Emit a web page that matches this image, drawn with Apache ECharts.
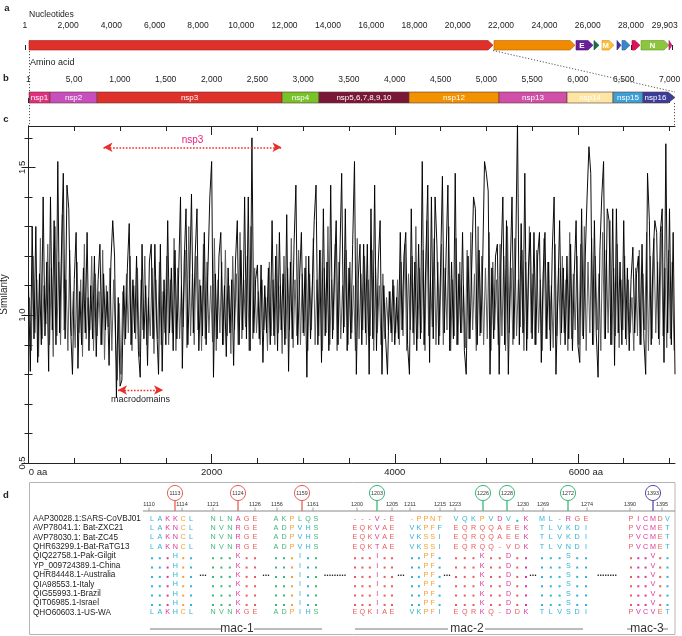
<!DOCTYPE html>
<html><head><meta charset="utf-8">
<script src="https://cdn.jsdelivr.net/npm/echarts@6/dist/echarts.min.js"></script>
<style>html,body{margin:0;padding:0;background:#fff}#c{width:682px;height:636px}</style>
</head><body><div id="c"></div>
<script>
// ================= DATA =================
// Panel a: genome (nucleotides)
const ntTicks = [1,2000,4000,6000,8000,10000,12000,14000,16000,18000,20000,22000,24000,26000,28000,29903];
const ntTickLabels = ['1','2,000','4,000','6,000','8,000','10,000','12,000','14,000','16,000','18,000','20,000','22,000','24,000','26,000','28,000','29,903'];
const geneLabels = ['', '', 'E', '', 'M', '', '', '', 'N', ''];
const geneStart = [194, 21672, 25460, 26291, 26661, 27353, 27584, 28045, 28462, 29755];
const geneEnd   = [21626, 25414, 26245, 26522, 27215, 27538, 27953, 28416, 29755, 29894];

// Panel b: polyprotein (amino acids)
const aaTicks = [1,500,1000,1500,2000,2500,3000,3500,4000,4500,5000,5500,6000,6500,7000];
const aaTickLabels = ['1','5,00','1,000','1,500','2,000','2,500','3,000','3,500','4,000','4,500','5,000','5,500','6,000','6,500','7,000'];
const nspNames = ['nsp1','nsp2','nsp3','nsp4','nsp5,6,7,8,9,10','nsp12','nsp13','nsp14','nsp15','nsp16'];
const nspStart = [8, 237, 751, 2770, 3173, 4156, 5138, 5881, 6383, 6710];
const nspEnd   = [237, 751, 2770, 3173, 4156, 5138, 5881, 6383, 6710, 7060];

// Panel c: similarity traces (dark trace at 0,20,40... aa; grey trace at 10,30,50... aa)
const simStepAA = 20;
const similarity = [
1.10,0.81,1.30,0.92,1.30,0.84,1.14,0.90,1.40,0.93,1.18,0.81,1.40,0.95,1.32,0.90,1.52,0.94,1.22,1.48,0.92,1.44,1.36,0.96,0.80,
1.12,1.28,0.82,1.08,0.90,1.16,0.94,1.28,0.88,1.10,0.92,1.20,0.86,1.12,1.24,0.90,1.14,0.95,1.08,0.83,1.18,1.32,1.20,0.72,1.06,
0.76,0.78,1.10,0.92,1.16,1.31,0.90,1.12,0.94,1.20,0.88,0.79,1.24,0.92,1.10,0.83,1.18,1.24,0.92,1.24,0.96,0.80,1.24,0.81,1.12,
0.90,1.32,0.94,1.16,0.88,1.22,0.92,1.14,1.40,0.82,1.18,1.36,0.90,1.12,1.41,0.94,1.20,1.36,0.88,1.10,0.93,1.28,0.90,1.16,1.40,
1.52,0.79,1.14,0.92,1.20,1.28,0.90,1.10,0.86,1.16,0.94,1.12,0.83,1.18,1.32,0.90,1.22,0.95,1.40,0.92,1.40,0.88,1.60,0.94,1.12,
1.17,0.92,1.17,0.84,1.10,0.94,1.16,0.90,1.32,0.93,1.20,0.88,1.28,0.95,1.14,0.90,1.34,0.81,1.18,0.92,1.24,1.44,0.90,1.12,1.28,
0.94,1.16,0.79,1.20,0.92,1.10,1.32,1.44,0.90,1.22,0.84,1.36,0.93,1.18,0.88,1.44,0.92,1.14,1.32,0.90,1.20,1.48,0.94,1.36,0.88,
1.16,0.92,1.24,1.52,0.80,1.12,1.24,0.90,1.24,0.94,1.24,0.80,1.36,0.92,1.44,0.88,1.18,1.32,0.80,1.10,0.92,0.80,1.08,0.94,1.12,
0.90,1.06,0.92,1.28,0.95,1.20,1.28,0.90,0.80,1.36,0.94,1.18,0.88,1.24,0.92,1.52,0.90,1.20,1.44,0.84,1.40,0.92,1.40,1.24,0.90,
1.16,1.47,0.94,1.20,1.44,0.88,1.18,0.92,1.48,0.90,1.14,0.94,1.28,0.88,0.80,1.20,0.92,1.16,1.40,1.36,0.90,1.22,0.94,1.18,1.52,
1.48,1.42,0.80,1.16,0.92,1.20,1.24,0.80,1.18,1.40,0.90,1.32,0.80,1.14,1.40,0.92,1.20,1.66,0.90,1.31,0.94,1.48,0.88,1.16,1.28,
0.92,1.28,0.90,1.20,1.28,0.84,1.14,1.28,0.92,1.18,0.88,1.22,1.40,0.80,0.80,1.32,0.94,1.16,0.90,1.20,0.92,1.24,0.88,1.14,1.32,
0.90,0.84,1.36,0.92,1.20,1.40,1.57,1.48,0.90,1.32,0.94,0.79,1.22,1.40,1.52,0.92,1.36,1.32,0.90,1.36,0.83,1.36,0.94,1.18,0.90,
1.32,0.92,1.16,0.88,1.12,1.23,0.94,1.14,1.20,0.90,1.24,0.92,0.80,1.48,1.32,0.90,1.20,1.32,1.28,0.92,1.28,1.36,0.84,1.58,0.94,
1.36,0.90,1.28,0.80
];
const simGreyStartAA = 10;
const similarityGrey = [
1.06,0.88,1.20,0.94,1.12,0.86,1.26,0.92,1.10,0.97,1.24,0.90,1.16,0.86,1.30,0.93,1.18,0.90,1.34,0.95,1.12,0.88,1.22,0.93,1.08,
0.89,1.18,0.94,1.12,0.86,1.24,0.92,1.06,0.95,1.20,0.88,1.14,0.93,1.08,0.90,1.22,0.85,1.10,0.96,1.16,0.88,1.12,0.92,0.78,1.04,
0.80,1.08,0.90,1.14,0.94,1.20,0.88,1.10,0.92,1.16,0.86,1.12,0.95,1.20,0.90,1.06,0.93,1.16,0.87,1.12,0.92,1.18,0.90,1.08,0.94,
1.20,0.90,1.12,0.94,1.26,0.88,1.16,0.92,1.10,0.96,1.22,0.89,1.30,0.93,1.14,0.90,1.20,0.95,1.12,0.88,1.24,0.92,1.18,0.94,1.10,
0.91,1.26,0.88,1.12,0.94,1.18,0.90,1.22,0.93,1.10,0.87,1.20,0.95,1.14,0.90,1.28,0.92,1.12,0.96,1.20,0.88,1.30,0.92,1.16,0.94,
1.08,0.90,1.12,0.95,1.06,0.88,1.18,0.93,1.12,0.90,1.24,0.94,1.10,0.87,1.20,0.92,1.16,0.95,1.26,0.89,1.12,0.93,1.22,0.90,1.14,
0.93,1.20,0.88,1.14,0.95,1.26,0.90,1.12,0.93,1.22,0.88,1.16,0.94,1.30,0.90,1.12,0.95,1.24,0.88,1.18,0.92,1.10,0.96,1.22,0.90,
1.18,0.94,1.10,0.88,1.26,0.92,1.14,0.95,1.20,0.90,1.12,0.93,1.22,0.88,1.16,0.94,1.10,0.90,1.14,0.92,1.06,0.95,1.08,0.91,1.10,
0.94,1.12,0.90,1.18,0.93,1.24,0.88,1.14,0.95,1.20,0.90,1.30,0.92,1.16,0.94,1.22,0.88,1.32,0.93,1.12,0.96,1.26,0.90,1.18,0.93,
1.24,0.90,1.16,0.95,1.30,0.88,1.12,0.93,1.26,0.90,1.18,0.94,1.10,0.89,1.22,0.92,1.28,0.95,1.14,0.88,1.30,0.93,1.20,0.90,1.16,
0.92,1.28,0.88,1.18,0.95,1.12,0.90,1.24,0.93,1.20,0.88,1.30,0.94,1.16,0.90,1.26,0.93,1.12,0.96,1.22,0.88,1.18,0.92,1.30,0.94,
1.14,0.90,1.22,0.94,1.12,0.88,1.26,0.92,1.18,0.95,1.10,0.89,1.24,0.93,1.16,0.90,1.20,0.94,1.12,0.88,1.28,0.92,1.14,0.95,1.20,
0.90,1.24,0.93,1.30,0.88,1.18,0.94,1.26,0.90,1.20,0.95,1.14,0.88,1.28,0.92,1.22,0.94,1.32,0.90,1.16,0.93,1.24,0.89,1.12,0.95,
1.20,0.90,1.12,0.94,1.06,0.88,1.16,0.93,1.22,0.90,1.14,0.95,1.28,0.88,1.20,0.92,1.26,0.94,1.18,0.90,1.30,0.93,1.16,0.89,1.22,
0.92,1.18,0.88
];
const xLabelValues = [0, 2000, 4000, 6000];
const yLabelValues = [0.5, 1.0, 1.5];
const yMinorValues = [0.6,0.7,0.8,0.9,1.1,1.2,1.3,1.4,1.6];
const xMinorValues = [500,1000,1500,2500,3000,3500,4500,5000,5500,6500,7000];
const nsp3Range = [819, 2763];
const macroRange = [977, 1469];

// Panel d: alignment
const seqNames = ['AAP30028.1:SARS-CoVBJ01','AVP78041.1: Bat-ZXC21','AVP78030.1: Bat-ZC45','QHR63299.1-Bat-RaTG13','QIQ22758.1-Pak-Gilgit','YP_009724389.1-China','QHR84448.1-Australia','QIA98553.1-Italy','QIG55993.1-Brazil','QIT06985.1-Israel','QHO60603.1-US-WA'];
const alignment = [
 ['LAKKCL','LAKNCL','LAKNCL','LAKNCL','...H..','...H..','...H..','...H..','...H..','...H..','LAKHCL'],
 ['NLNAGE','NVNRGE','NVNRGE','NVNRGE','...K..','...K..','...K..','...K..','...K..','...K..','NVNKGE'],
 ['AKPLQS','ADPVHS','ADPVHS','ADPVHS','...I..','...I..','...I..','...I..','...I..','...I..','ADPIHS'],
 ['---V-E','EQKVAE','EQKVAE','EQKTAE','...I..','...I..','...I..','...I..','...I..','...I..','EQKIAE'],
 ['-PPNT','VKPFF','VKSSI','VKSSI','..PF.','..PF.','..PF.','..PF.','..PF.','..PF.','VKPFI'],
 ['VQKPVDV.K','EQRQQAEEK','EQRQQAEEK','EQRQQ-VDK','...K..D..','...K..D..','...K..D..','...K..D..','...K..D..','...K..D..','EQRKQ-DDK'],
 ['ML-RGE','TLVKDI','TLVKDI','TLVNDI','...S..','...S..','...S..','...S..','...S..','...S..','TLVSDI'],
 ['PICMDV','PVCMET','PVCMET','PVCMET','...V..','...V..','...V..','...V..','...V..','...V..','PVCVET']
];
const rulerTicks = [1110,1114,1121,1126,1156,1161,1200,1205,1211,1215,1223,1230,1269,1274,1390,1395];
const siteResidues = [1113,1124,1159,1203,1226,1228,1272,1393];
const macLabels = ['mac-1','mac-2','mac-3'];

// ================= LAYOUT / STYLE =================
const FONT = '"Liberation Sans", Arial, sans-serif';
const geneColors = ['#e0302a','#f08a00','#6a1f9a','#17704a','#f6bf3e','#3b36a0','#3b86cc','#e0145c','#8cc63f','#e0207a'];
const geneStroke = ['#9e1b17','#b36200','#4a1070','#0e4f33','#e08f10','#26237a','#27609a','#a00c40','#5f9a22','#a0105a'];
const nspColors = ['#e0307f','#c64fbd','#e0302a','#78c32a','#7a1638','#f39200','#d04fa8','#fde5a4','#3d9fd5','#3c3c9c'];
const PAL = {c:'#2fb3d8', p:'#e0359b', o:'#f5a031', g:'#3db878', r:'#ea5c5c'};
const blockStyle = [
 {x0:152, step:7.8,  c1:'ccppoc', cc:'ccppoc', v:'c'},
 {x0:213, step:8.4,  c1:'gggprr', cc:'gggprr', v:'p'},
 {x0:276, step:8.0,  c1:'ggoggg', cc:'ggoccg', v:'c'},
 {x0:355, step:7.4,  c1:'rrrprr', cc:'rrrprr', v:'p'},
 {x0:412, step:6.9,  c1:'ooooo',  cc:'ccooc',  v:'o'},
 {x0:456, step:8.75, c1:'cccocpccp', cc:'rrrrrrrrp', v:'p'},
 {x0:542, step:8.8,  c1:'cccprr', cc:'cccccc', v:'c'},
 {x0:631, step:7.3,  c1:'rppprc', cc:'rppprc', v:'p'}
];
const rulerX = [149,182,213,255,277,313,357,392,410,440,455,523,543,587,630,662];
const siteX = [175,238,302,377,483,507,568,653];
const siteCol = ['#e8605a','#e8605a','#e8605a','#3cb878','#3cb878','#3cb878','#3cb878','#5b4ab0'];
const macLayout = [
 {cx:237, segs:[[150,221],[254,322]]},
 {cx:467, segs:[[355,448],[485,583]]},
 {cx:647, segs:[[627,632],[663,668]]}
];
const ellipses = [[203,'...'],[266,'...'],[335,'.........'],[401,'...'],[447,'...'],[533,'...'],[607,'........']];
const row0Y = 518.8, rowStep = 9.35;

// ================= BUILD =================
const chart = echarts.init(document.getElementById('c'), null, {renderer:'canvas', width:682, height:636});

function arrowRender(colors, strokes, labels, headLen, fontSize, lastOnlyHead) {
  return function (params, api) {
    const s = api.value(0), e = api.value(1), k = api.value(2);
    const p0 = api.coord([s, 1]), p1 = api.coord([e, 0]);
    const x0 = p0[0], x1 = p1[0], yT = p0[1], yB = p1[1], yM = (yT + yB) / 2;
    let head = headLen;
    if (lastOnlyHead && k !== labels.length - 1) head = 0;
    head = Math.min(head, x1 - x0);
    const pts = [[x0,yT],[x1-head,yT],[x1,yM],[x1-head,yB],[x0,yB]];
    const children = [{type:'polygon', shape:{points:pts}, style:{fill:colors[k], stroke:strokes[k], lineWidth:0.6}}];
    if (labels[k]) {
      children.push({type:'text', x:(x0 + x1 - head) / 2, y:yM + 0.3,
        style:{text:labels[k], fill:'#fff', fontSize:fontSize, fontFamily:FONT, fontWeight: lastOnlyHead ? 'normal' : 'bold', align:'center', verticalAlign:'middle'}});
    }
    return {type:'group', children};
  };
}

const geneData = geneStart.map((s, i) => [s, geneEnd[i], i]);
const nspData = nspStart.map((s, i) => [s, nspEnd[i], i]);
const simData = similarity.map((v, i) => [i * simStepAA, v]);
const simGreyData = similarityGrey.map((v, i) => [simGreyStartAA + i * simStepAA, v]);

const axLine = {lineStyle:{color:'#222', width:1}};
const hidden = {show:false};
const lastNt = ntTickLabels.length - 1;

const xAxes = [
  {gridIndex:0, type:'value', min:0, max:30000, position:'top', offset:3.5,
   axisLine:hidden, splitLine:hidden,
   axisTick:{show:true, customValues:ntTicks, length:5, lineStyle:{color:'#222'}},
   axisLabel:{show:true, customValues:ntTicks, margin:7, fontSize:8.5, color:'#222', fontFamily:FONT,
     formatter:v => { const k = ntTicks.indexOf(v); return k === lastNt ? '{r|' + ntTickLabels[k] + '}' : ntTickLabels[k]; },
     rich:{r:{fontSize:8.5, fontFamily:FONT, color:'#222', padding:[0,15,0,0]}}}},
  {gridIndex:1, type:'value', min:0, max:7100, position:'top', offset:2,
   axisLine:hidden, splitLine:hidden,
   axisTick:{show:true, customValues:aaTicks, length:5, lineStyle:{color:'#222'}},
   axisLabel:{show:true, customValues:aaTicks, formatter:v => aaTickLabels[aaTicks.indexOf(v)], margin:6, fontSize:8.5, color:'#222', fontFamily:FONT}},
  {gridIndex:2, type:'value', min:0, max:7060, position:'bottom',
   axisLine:axLine, splitLine:hidden,
   axisTick:{show:true, inside:true, customValues:xLabelValues, length:9, lineStyle:{color:'#222'}},
   axisLabel:{show:true, customValues:xLabelValues, margin:4, fontSize:9.5, color:'#222', fontFamily:FONT,
     formatter:v => v === 0 ? '{a|0 aa}' : (v === 6000 ? '{b|6000 aa}' : String(v)),
     rich:{a:{fontSize:9.5, fontFamily:FONT, color:'#222', padding:[0,0,0,19]}, b:{fontSize:9.5, fontFamily:FONT, color:'#222', padding:[0,0,0,16]}}}},
  {gridIndex:2, type:'value', min:0, max:7060, position:'top',
   axisLine:axLine, splitLine:hidden, axisLabel:hidden,
   axisTick:{show:true, inside:true, customValues:xLabelValues, length:9, lineStyle:{color:'#222'}}},
  {gridIndex:3, type:'value', min:0, max:7060, position:'bottom',
   axisLine:hidden, splitLine:hidden, axisLabel:hidden,
   axisTick:{show:true, inside:true, customValues:xMinorValues, length:5, lineStyle:{color:'#222'}}},
  {gridIndex:3, type:'value', min:0, max:7060, position:'top',
   axisLine:hidden, splitLine:hidden, axisLabel:hidden,
   axisTick:{show:true, inside:true, customValues:xMinorValues, length:5, lineStyle:{color:'#222'}}}
];

const yAxes = [
  {gridIndex:0, type:'value', min:0, max:1, show:false},
  {gridIndex:1, type:'value', min:0, max:1, show:false},
  {gridIndex:2, type:'value', min:0.5, max:1.64, position:'left',
   axisLine:axLine, splitLine:hidden,
   axisTick:{show:true, inside:true, customValues:yLabelValues, length:7, lineStyle:{color:'#222'}},
   axisLabel:{show:true, customValues:yLabelValues, formatter:v => v.toFixed(1), rotate:90, margin:1.5, fontSize:9.5, color:'#222', fontFamily:FONT},
   name:'Similarity', nameLocation:'middle', nameRotate:90, nameGap:19,
   nameTextStyle:{fontSize:10, color:'#222', fontFamily:FONT}},
  {gridIndex:2, type:'value', min:0.5, max:1.64, position:'right',
   axisLine:axLine, splitLine:hidden, axisLabel:hidden,
   axisTick:{show:true, inside:true, customValues:yLabelValues, length:7, lineStyle:{color:'#222'}}},
  {gridIndex:3, type:'value', min:0.5, max:1.64, position:'left',
   axisLine:hidden, splitLine:hidden, axisLabel:hidden,
   axisTick:{show:true, inside:true, customValues:yMinorValues, length:4, lineStyle:{color:'#222'}}},
  {gridIndex:3, type:'value', min:0.5, max:1.64, position:'right',
   axisLine:hidden, splitLine:hidden, axisLabel:hidden,
   axisTick:{show:true, inside:true, customValues:yMinorValues, length:4, lineStyle:{color:'#222'}}}
];

// ---------- graphic (text / annotations) ----------
const G = [];
function txt(x, y, text, o) {
  o = o || {};
  G.push({type:'text', x, y, silent:true, z:10,
    style:{text, fill:o.fill || '#222', fontSize:o.size || 9, fontFamily:FONT, fontWeight:o.weight || 'normal',
      align:o.align || 'left', verticalAlign:o.va || 'middle'}});
}
function line(x1, y1, x2, y2, o) {
  o = o || {};
  G.push({type:'line', silent:true, z:o.z || 10, shape:{x1, y1, x2, y2},
    style:{stroke:o.stroke || '#333', lineWidth:o.w || 1, lineDash:o.dash || null}});
}

txt(7, 8, 'a', {weight:'bold', size:9.5, align:'center'});
txt(6, 78, 'b', {weight:'bold', size:9.5, align:'center'});
txt(6, 119, 'c', {weight:'bold', size:9.5, align:'center'});
txt(6, 495, 'd', {weight:'bold', size:9.5, align:'center'});
txt(29, 15, 'Nucleotides', {size:8.6});
txt(30, 63, 'Amino acid', {size:9});

line(29.5, 51, 29.5, 126, {dash:[1.2,1.8], w:0.9, stroke:'#444'});
line(493, 50.5, 675, 92, {dash:[1.2,1.8], w:0.9, stroke:'#444'});
line(674.5, 103, 674.5, 126, {dash:[1.2,1.8], w:0.9, stroke:'#444'});

G.push({type:'rect', silent:true, z:5, shape:{x:29.5, y:482.5, width:645.5, height:152}, style:{fill:'none', stroke:'#b5b5b5', lineWidth:1}});

seqNames.forEach((n, i) => txt(33, row0Y + i * rowStep, n, {size:8.2, fill:'#222'}));

line(143, 511, 675, 511, {stroke:'#8a8a8a', w:1.2});
rulerTicks.forEach((t, i) => {
  line(rulerX[i], 507.5, rulerX[i], 511, {stroke:'#8a8a8a', w:0.8});
  txt(rulerX[i], 504.5, String(t), {size:5.5, align:'center', fill:'#333'});
});
siteResidues.forEach((r, i) => {
  line(siteX[i], 500.8, siteX[i], 511, {stroke:siteCol[i], w:1.3, z:11});
  G.push({type:'circle', silent:true, z:11, shape:{cx:siteX[i], cy:493, r:7.6}, style:{fill:'#fff', stroke:siteCol[i], lineWidth:1}});
  txt(siteX[i], 493.3, String(r), {size:5.3, align:'center', fill:'#333'});
  G[G.length - 1].z = 12;
});

alignment.forEach((blk, gi) => {
  const L = blockStyle[gi];
  const variantCols = [];
  for (let c = 0; c < blk[4].length; c++) if (blk[4][c] !== '.') variantCols.push(c);
  blk.forEach((row, ri) => {
    const y = row0Y + ri * rowStep;
    for (let ci = 0; ci < row.length; ci++) {
      const ch = row[ci];
      const x = L.x0 + ci * L.step;
      let key;
      if (ri === 0) key = L.c1[ci];
      else if (ri >= 4 && variantCols.indexOf(ci) >= 0) key = L.v;
      else key = L.cc[ci];
      const col = PAL[key];
      if (ch === '.') {
        G.push({type:'rect', silent:true, z:10, shape:{x:x - 1, y:y + 1, width:2, height:2}, style:{fill:col}});
      } else {
        txt(x, y, ch, {size:7.2, align:'center', fill:col});
      }
    }
  });
});
ellipses.forEach(e => txt(e[0], row0Y + 6 * rowStep - 1.5, e[1], {size:9, align:'center', fill:'#222', weight:'bold'}));

macLabels.forEach((m, i) => {
  const L = macLayout[i];
  L.segs.forEach(s => line(s[0], 629, s[1], 629, {stroke:'#555', w:0.8}));
  txt(L.cx, 629, m, {size:12, align:'center', fill:'#333'});
});

const gridBase = {containLabel:false, outerBoundsMode:'none'};
const option = {
  animation:false,
  backgroundColor:'#fff',
  grid:[
    Object.assign({left:24.8, top:40.5, width:649.5, height:9.5}, gridBase),
    Object.assign({left:28.3, top:92, width:650.4, height:11}, gridBase),
    Object.assign({left:28.5, top:126, width:646.5, height:337}, gridBase),
    Object.assign({left:28.5, top:126, width:646.5, height:337}, gridBase)
  ],
  xAxis:xAxes,
  yAxis:yAxes,
  series:[
    {type:'custom', xAxisIndex:0, yAxisIndex:0, data:geneData, silent:true,
     renderItem:arrowRender(geneColors, geneStroke, geneLabels, 5, 8, false)},
    {type:'custom', xAxisIndex:1, yAxisIndex:1, data:nspData, silent:true,
     renderItem:arrowRender(nspColors, nspColors.map(() => '#5a3a30'), nspNames, 7, 8, true)},
    {type:'line', xAxisIndex:2, yAxisIndex:2, data:simGreyData, symbol:'none', silent:true, clip:true,
     lineStyle:{color:'#5e5e5e', width:1}, z:2},
    {type:'line', xAxisIndex:2, yAxisIndex:2, data:simData, symbol:'none', silent:true, clip:true,
     lineStyle:{color:'#000', width:0.95}, z:3,
     markLine:{silent:true, symbol:['arrow','arrow'], symbolSize:[7,9], precision:2,
       data:[
        [{name:'nsp3', coord:[nsp3Range[0], 1.568],
          lineStyle:{color:'#e8302a', type:[1.6,1.6], width:1.6},
          itemStyle:{color:'#e8302a'},
          label:{show:true, formatter:'{b}', position:'insideMiddleTop', distance:2, color:'#e8207f', fontSize:10, fontFamily:FONT}},
         {coord:[nsp3Range[1], 1.568]}],
        [{name:'macrodomains', coord:[macroRange[0], 0.747],
          lineStyle:{color:'#e8302a', type:[1.6,1.6], width:1.4},
          itemStyle:{color:'#e8302a'},
          label:{show:true, formatter:'{b}', position:'insideMiddleBottom', distance:5, color:'#222', fontSize:9, fontFamily:FONT}},
         {coord:[macroRange[1], 0.747]}]
       ]}}
  ],
  graphic:{elements:G}
};
chart.setOption(option);
</script>
</body></html>
